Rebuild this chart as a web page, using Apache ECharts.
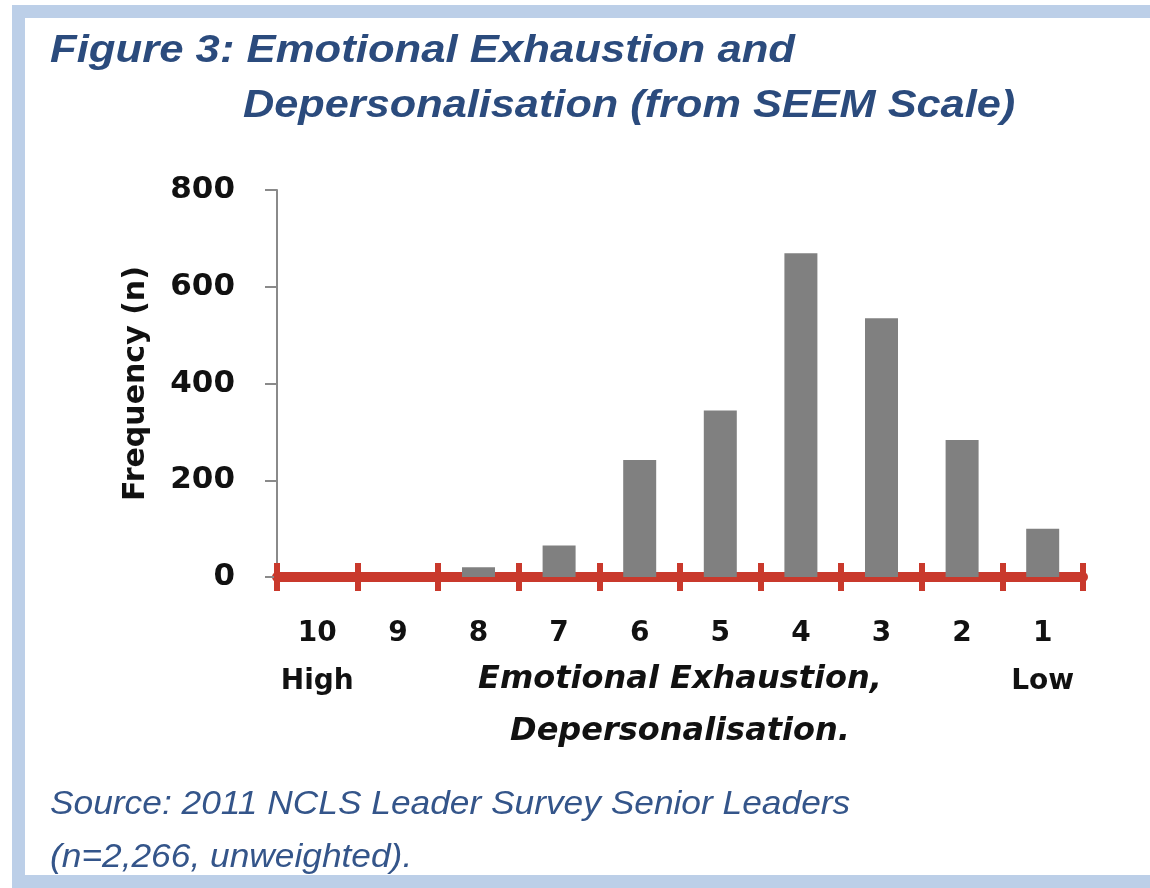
<!DOCTYPE html>
<html>
<head>
<meta charset="utf-8">
<script src="https://cdn.jsdelivr.net/npm/echarts@6/dist/echarts.min.js"></script>
<style>
    html, body { margin: 0; padding: 0; background: #fff; }
    #frame {
        position: absolute; left: 12px; top: 5px; width: 1200px; height: 883px;
        border: 13px solid #bccfe8; box-sizing: border-box;
    }
    #chart { position: absolute; left: 0; top: 0; width: 1150px; height: 888px; }
</style>
</head>
<body>
<div id="frame"></div>
<div id="chart"></div>
<script>
const categories = ['10', '9', '8', '7', '6', '5', '4', '3', '2', '1'];
const frequency = [0, 0, 20, 65, 242, 344, 669, 535, 283, 100];
const endLabels = { '10': 'High', '1': 'Low' };
const titleLines = ['Figure 3: Emotional Exhaustion and', 'Depersonalisation (from SEEM Scale)'];
const sourceLines = ['Source: 2011 NCLS Leader Survey Senior Leaders', '(n=2,266, unweighted).'];

const chart = echarts.init(document.getElementById('chart'), null, { renderer: 'canvas' });

const blue = '#2b4b7d';
const red = '#c9392c';
const labelFont = '"DejaVu Sans", sans-serif';
const titleFont = 'italic bold 39px "Liberation Sans", Arial, sans-serif';
const sourceFont = 'italic 33px "Liberation Sans", Arial, sans-serif';

const option = {
    animation: false,
    graphic: [
        // the picture is stretched sideways, so the texts get a scaleX
        { type: 'text', x: 50, y: 32, scaleX: 1.12, style: { text: titleLines[0], fill: blue, font: titleFont } },
        { type: 'text', x: 243, y: 87, scaleX: 1.11, style: { text: titleLines[1], fill: blue, font: titleFont } },
        { type: 'text', x: 50, y: 788, scaleX: 1.07, style: { text: sourceLines[0], fill: '#34558a', font: sourceFont } },
        { type: 'text', x: 50, y: 841, scaleX: 1.07, style: { text: sourceLines[1], fill: '#34558a', font: sourceFont } }
    ],
    grid: { left: 277, right: 67, top: 190, bottom: 311 },
    xAxis: [
        {
            type: 'category',
            data: categories,
            position: 'bottom',
            axisLine: { lineStyle: { color: red, width: 10 } },
            axisTick: { show: true, interval: 0, length: 14, lineStyle: { color: red, width: 6 } },
            axisLabel: {
                interval: 0,
                margin: 33,
                color: '#111',
                fontFamily: labelFont,
                fontWeight: 'bold',
                fontSize: 28,
                lineHeight: 48,
                formatter: function (v) {
                    return endLabels[v] ? v + '\n' + endLabels[v] : v;
                }
            },
            name: 'Emotional Exhaustion,\nDepersonalisation.',
            nameLocation: 'middle',
            nameGap: 77,
            nameMoveOverlap: false,
            nameTextStyle: {
                color: '#111',
                fontFamily: labelFont,
                fontWeight: 'bold',
                fontStyle: 'italic',
                fontSize: 32,
                lineHeight: 52
            }
        },
        {
            // inner half of the crossing ticks
            type: 'category',
            data: categories,
            position: 'bottom',
            axisLine: { show: false },
            axisTick: { show: true, interval: 0, inside: true, length: 14, lineStyle: { color: red, width: 6 } },
            axisLabel: { show: false }
        }
    ],
    yAxis: {
        type: 'value',
        min: 0,
        max: 800,
        interval: 200,
        splitLine: { show: false },
        axisLine: { show: true, lineStyle: { color: '#8a8a8a', width: 2 } },
        axisTick: { show: true, length: 12, lineStyle: { color: '#8a8a8a', width: 2 } },
        axisLabel: {
            margin: 42,
            color: '#111',
            fontFamily: labelFont,
            fontWeight: 'bold',
            fontSize: 31
        },
        name: 'Frequency (n)',
        nameLocation: 'middle',
        nameGap: 126,
        nameMoveOverlap: false,
        nameTextStyle: {
            color: '#111',
            fontFamily: labelFont,
            fontWeight: 'bold',
            fontSize: 30
        }
    },
    series: [
        {
            type: 'bar',
            data: frequency,
            barWidth: 33,
            itemStyle: { color: '#808080' },
            z: 1
        }
    ]
};

chart.setOption(option);
</script>
</body>
</html>
